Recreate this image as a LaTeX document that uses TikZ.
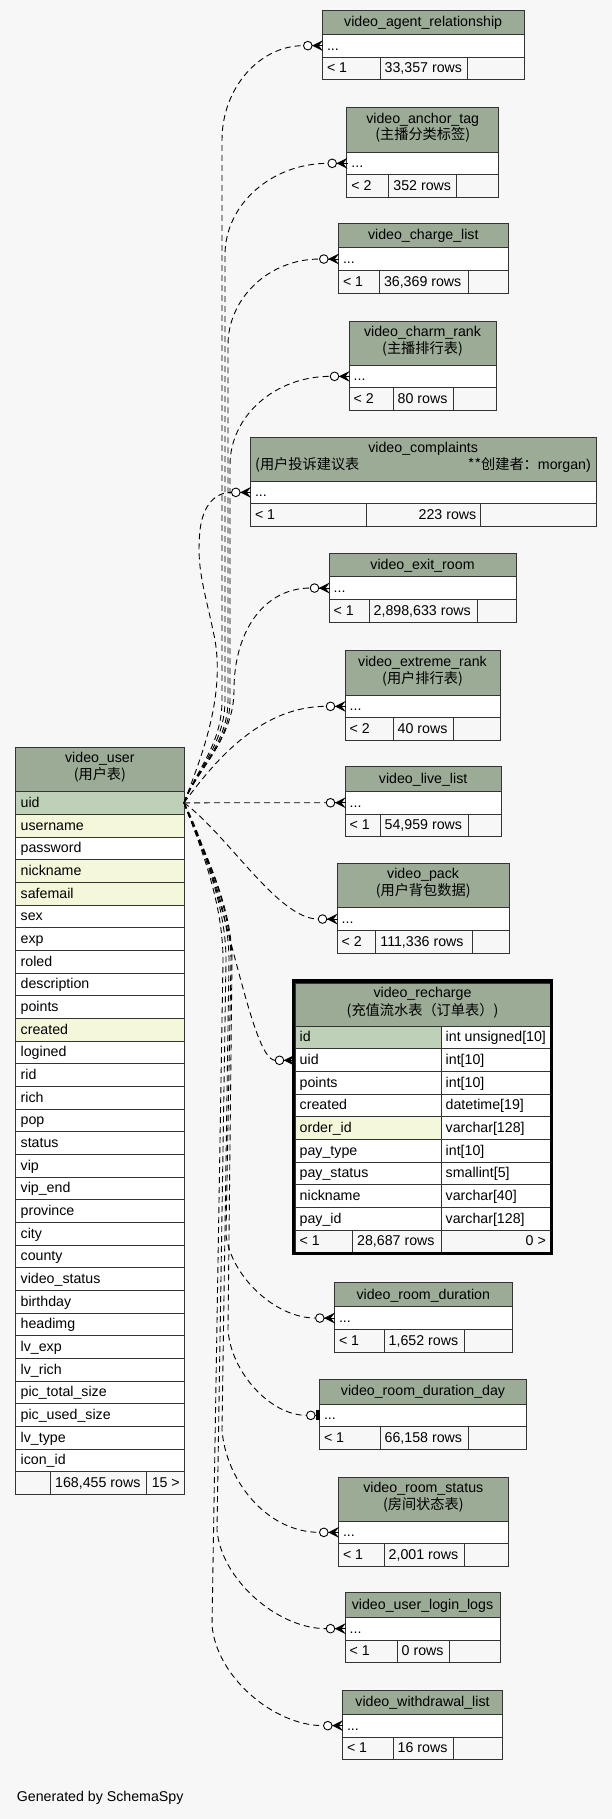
\documentclass[tikz,border=0pt]{standalone}
\usepackage{fontspec}
\setmainfont{Liberation Sans}
\newfontfamily\cjk{Noto Sans CJK SC}
\usetikzlibrary{calc}
\definecolor{bgc}{HTML}{F7F7F7}
\definecolor{hdrc}{HTML}{9BAB96}
\definecolor{pkc}{HTML}{BED1B8}
\definecolor{idxc}{HTML}{F4F7DA}
\definecolor{bdc}{HTML}{333333}
\tikzset{
  cellb/.style={draw=bdc, line width=0.9pt},
  txt/.style={font=\fontsize{14.2}{17}\selectfont, inner sep=0pt},
  ltxt/.style={txt, anchor=base west},
  rtxt/.style={txt, anchor=base east},
  ctxt/.style={txt, anchor=base},
  rel/.style={draw=black, line width=0.9pt, dash pattern=on 6pt off 4pt},
  mkline/.style={line width=0.9pt, solid}
}
% collapsed child table: id, xl, xr, ytop, yhb, div1, div2, left footer, rows text
\newcommand{\ctab}[9]{%
  \pgfmathsetmacro\myra{#5+22.7}%
  \pgfmathsetmacro\myrb{#5+45.4}%
  \pgfmathsetmacro\myba{#5+15.8}%
  \pgfmathsetmacro\mybb{#5+38.5}%
  \pgfmathsetmacro\mymy{#5+11.35}%
  \pgfmathsetmacro\mytx{#2+4.5}%
  \pgfmathsetmacro\mytm{#6+4.5}%
  \filldraw[cellb, fill=hdrc] (#2,#4) rectangle (#3,#5);
  \filldraw[cellb, fill=white] (#2,#5) rectangle (#3,\myra);
  \filldraw[cellb, fill=bgc] (#2,\myra) rectangle (#6,\myrb);
  \filldraw[cellb, fill=bgc] (#6,\myra) rectangle (#7,\myrb);
  \filldraw[cellb, fill=bgc] (#7,\myra) rectangle (#3,\myrb);
  \node[ltxt] (#1-dots) at (\mytx,\myba) {...};
  \node[ltxt] (#1-min) at (\mytx,\mybb) {#8};
  \node[ltxt] (#1-rows) at (\mytm,\mybb) {#9};
  \coordinate (#1-e) at (#2,\mymy);
  \coordinate (#1-c) at ($(#1-e)+(-18.8,0)$);
}
% single-line title: id, xl, xr, ytop, text
\newcommand{\tone}[5]{%
  \pgfmathsetmacro\mycx{(#2+#3)/2}\pgfmathsetmacro\mycy{#4+16.3}%
  \node[ctxt] (#1-t) at (\mycx,\mycy) {#5};}
% two-line title: id, xl, xr, ytop, line1, line2
\newcommand{\ttwo}[6]{%
  \pgfmathsetmacro\mycx{(#2+#3)/2}\pgfmathsetmacro\mycy{#4+15.6}\pgfmathsetmacro\mycz{#4+32.3}%
  \node[ctxt] (#1-t1) at (\mycx,\mycy) {#5};
  \node[ctxt] (#1-t2) at (\mycx,\mycz) {\cjk #6};}
\newcommand{\crowmark}[1]{%
  \fill ($(#1)+(-10.2,0)$) -- ($(#1)+(0.8,-5.5)$) -- ($(#1)+(-3.5,0)$) -- ($(#1)+(0.8,5.5)$) -- cycle;
  \draw[mkline] ($(#1)+(-10.2,0)$) -- ($(#1)+(0.8,0)$);
  \draw[mkline, fill=white] ($(#1)+(-14.5,0)$) circle[radius=4.3];}
\newcommand{\teemark}[1]{%
  \fill ($(#1)+(-3.7,-5)$) rectangle ($(#1)+(0.3,5)$);
  \draw[mkline] ($(#1)+(-4.2,0)$) -- (#1);
  \draw[mkline, fill=white] ($(#1)+(-8.5,0)$) circle[radius=4.3];}
\begin{document}
\begin{tikzpicture}[x=1pt,y=-1pt]
\fill[bgc] (0,0) rectangle (612,1819);
\useasboundingbox (0,0) rectangle (612,1819);

% ---------- video_user ----------
\filldraw[cellb, fill=hdrc] (15.7,747.3) rectangle (184,791.7);
\node[ctxt] (user-t1) at (99.85,762.9) {video\_user};
\node[ctxt] (user-t2) at (99.85,779.6) {\cjk (用户表)};
\foreach \n/\f [count=\i from 0] in {uid/pkc, username/idxc, password/white, nickname/idxc, safemail/idxc, sex/white, exp/white, roled/white, description/white, points/white, created/idxc, logined/white, rid/white, rich/white, pop/white, status/white, vip/white, vip\_end/white, province/white, city/white, county/white, video\_status/white, birthday/white, headimg/white, lv\_exp/white, lv\_rich/white, pic\_total\_size/white, pic\_used\_size/white, lv\_type/white, icon\_id/white} {
  \pgfmathsetmacro\myyt{791.7+22.667*\i}
  \pgfmathsetmacro\myyb{\myyt+22.667}
  \pgfmathsetmacro\myyl{\myyt+15.8}
  \filldraw[cellb, fill=\f] (15.7,\myyt) rectangle (184,\myyb);
  \node[ltxt] (user-r\i) at (20.5,\myyl) {\n};
}
\filldraw[cellb, fill=bgc] (15.7,1471.7) rectangle (50,1494.4);
\filldraw[cellb, fill=bgc] (50,1471.7) rectangle (146.7,1494.4);
\filldraw[cellb, fill=bgc] (146.7,1471.7) rectangle (184,1494.4);
\node[ltxt] (user-rows) at (55,1487.5) {168,455 rows};
\node[rtxt] (user-more) at (180,1487.5) {15 >};
\coordinate (uidout) at (184,802.8);

% ---------- child tables ----------
\ctab{agent}{322.3}{524}{10.3}{34.3}{380}{467.7}{< 1}{33,357 rows}
\tone{agent}{322.3}{524}{10.3}{video\_agent\_relationship}
\ctab{anchor}{346.7}{498.7}{107.7}{152}{388.7}{456.7}{< 2}{352 rows}
\ttwo{anchor}{346.7}{498.7}{107.7}{video\_anchor\_tag}{(主播分类标签)}
\ctab{charge}{338.3}{508.3}{223.3}{247.7}{379.3}{468}{< 1}{36,369 rows}
\tone{charge}{338.3}{508.3}{223.3}{video\_charge\_list}
\ctab{charm}{349}{496}{321}{365}{393}{453}{< 2}{80 rows}
\ttwo{charm}{349}{496}{321}{video\_charm\_rank}{(主播排行表)}

% complaints
\filldraw[cellb, fill=hdrc] (250.3,437.3) rectangle (596,481);
\filldraw[cellb, fill=white] (250.3,481) rectangle (596,503.7);
\filldraw[cellb, fill=bgc] (250.3,503.7) rectangle (366.7,526.4);
\filldraw[cellb, fill=bgc] (366.7,503.7) rectangle (480.7,526.4);
\filldraw[cellb, fill=bgc] (480.7,503.7) rectangle (596,526.4);
\node[ctxt] (compl-t1) at (423.2,452.9) {video\_complaints};
\node[ltxt] (compl-t2) at (255,469.6) {\cjk (用户投诉建议表};
\node[rtxt] (compl-t3) at (591,469.6) {{\cjk **创建者：}morgan)};
\node[ltxt] (compl-dots) at (254.8,496.8) {...};
\node[ltxt] (compl-min) at (254.8,519.5) {< 1};
\node[rtxt] (compl-rows) at (476.5,519.5) {223 rows};
\coordinate (compl-e) at (250.3,492.35);
\coordinate (compl-c) at ($(compl-e)+(-18.8,0)$);

\ctab{exit}{329}{516}{553.3}{576.7}{369}{477.3}{< 1}{2,898,633 rows}
\tone{exit}{329}{516}{553.3}{video\_exit\_room}
\ctab{extreme}{345}{500}{650.7}{695}{393}{453}{< 2}{40 rows}
\ttwo{extreme}{345}{500}{650.7}{video\_extreme\_rank}{(用户排行表)}
\ctab{live}{345}{501.3}{766.7}{791.4}{380}{468.3}{< 1}{54,959 rows}
\tone{live}{345}{501.3}{766.7}{video\_live\_list}
\ctab{pack}{337}{509.3}{863.3}{907.7}{375.7}{472}{< 2}{111,336 rows}
\ttwo{pack}{337}{509.3}{863.3}{video\_pack}{(用户背包数据)}

% recharge (focus table)
\filldraw[cellb, fill=hdrc] (295,983) rectangle (550,1026);
\node[ctxt] (rech-t1) at (422.5,997.5) {video\_recharge};
\node[ctxt] (rech-t2) at (422.5,1015.5) {\cjk (充值流水表（订单表）)};
\foreach \n/\ty/\f [count=\i from 0] in {id/int unsigned[10]/pkc, uid/int[10]/white, points/int[10]/white, created/datetime[19]/white, order\_id/varchar[128]/idxc, pay\_type/int[10]/white, pay\_status/smallint[5]/white, nickname/varchar[40]/white, pay\_id/varchar[128]/white} {
  \pgfmathsetmacro\myyt{1026+22.667*\i}
  \pgfmathsetmacro\myyb{\myyt+22.667}
  \pgfmathsetmacro\myyl{\myyt+15.8}
  \filldraw[cellb, fill=\f] (295,\myyt) rectangle (441,\myyb);
  \filldraw[cellb, fill=white] (441,\myyt) rectangle (550,\myyb);
  \node[ltxt] (rech-n\i) at (299.5,\myyl) {\n};
  \node[ltxt] (rech-ty\i) at (445.5,\myyl) {\ty};
}
\filldraw[cellb, fill=bgc] (295,1230) rectangle (352.7,1252.7);
\filldraw[cellb, fill=bgc] (352.7,1230) rectangle (441,1252.7);
\filldraw[cellb, fill=bgc] (441,1230) rectangle (550,1252.7);
\node[ltxt] (rech-min) at (299.5,1245.8) {< 1};
\node[ltxt] (rech-rows) at (357,1245.8) {28,687 rows};
\node[rtxt] (rech-more) at (546,1245.8) {0 >};
\draw[line width=3.4pt] (293.4,981) rectangle (551.6,1253.5);
\coordinate (rech-e) at (294,1060.3);
\coordinate (rech-c) at ($(rech-e)+(-18.8,0)$);

\ctab{rd}{334.3}{512.3}{1282.7}{1306.7}{384}{464}{< 1}{1,652 rows}
\tone{rd}{334.3}{512.3}{1282.7}{video\_room\_duration}
\ctab{rdd}{319.3}{526.7}{1379.3}{1404}{380}{468}{< 1}{66,158 rows}
\tone{rdd}{319.3}{526.7}{1379.3}{video\_room\_duration\_day}
\coordinate (rdd-c) at ($(rdd-e)+(-12.8,0)$);
\ctab{rs}{338.3}{508.3}{1477.3}{1521}{384}{464}{< 1}{2,001 rows}
\ttwo{rs}{338.3}{508.3}{1477.3}{video\_room\_status}{(房间状态表)}
\ctab{login}{345}{500}{1592.7}{1617.3}{397}{449.3}{< 1}{0 rows}
\tone{login}{345}{500}{1592.7}{video\_user\_login\_logs}
\ctab{wd}{342.3}{502.7}{1690}{1714.3}{393}{453}{< 1}{16 rows}
\tone{wd}{342.3}{502.7}{1690}{video\_withdrawal\_list}

% ---------- connectors ----------
\draw[rel] (uidout) .. controls (196,770) and (222,745) .. (222,700) -- (222,140) .. controls (222,88) and (259.5,45.65) .. (agent-c);
\draw[rel] (uidout) .. controls (196,770) and (225,745) .. (225,700) -- (225,255) .. controls (225,204) and (272,163.35) .. (anchor-c);
\draw[rel] (uidout) .. controls (196,770) and (228,745) .. (228,700) -- (228,345) .. controls (228,298) and (269,259.05) .. (charge-c);
\draw[rel] (uidout) .. controls (196,770) and (230,745) .. (230,700) -- (230,465) .. controls (230,416) and (275,376.35) .. (charm-c);
\draw[rel] (uidout) .. controls (200,760) and (225,700) .. (215,640) .. controls (205,590) and (196,570) .. (200,530) .. controls (203,505) and (215,492.35) .. (compl-c);
\draw[rel] (uidout) .. controls (196,770) and (234,740) .. (234,690) .. controls (234,630) and (265,588.05) .. (exit-c);
\draw[rel] (uidout) .. controls (212,765) and (258,706.35) .. (extreme-c);
\draw[rel] (uidout) -- (live-c);
\draw[rel] (uidout) .. controls (228,835) and (278,919.05) .. (pack-c);
\draw[rel] (uidout) .. controls (225,880) and (250,1060.3) .. (rech-c);
\draw[rel] (uidout) .. controls (198,840) and (231,900) .. (231,960) -- (226,1235) .. controls (231,1276) and (275,1318.05) .. (rd-c);
\draw[rel] (uidout) .. controls (198,840) and (232,900) .. (232,960) -- (228,1330) .. controls (231,1372) and (270,1415.35) .. (rdd-c);
\draw[rel] (uidout) .. controls (198,840) and (229,900) .. (229,960) -- (222,1430) .. controls (226,1481) and (267,1532.35) .. (rs-c);
\draw[rel] (uidout) .. controls (198,840) and (226,900) .. (226,960) -- (217,1530) .. controls (221,1579) and (277,1628.65) .. (login-c);
\draw[rel] (uidout) .. controls (198,840) and (223,900) .. (223,960) -- (212,1625) .. controls (216,1676) and (273,1725.65) .. (wd-c);

\crowmark{agent-e}
\crowmark{anchor-e}
\crowmark{charge-e}
\crowmark{charm-e}
\crowmark{compl-e}
\crowmark{exit-e}
\crowmark{extreme-e}
\crowmark{live-e}
\crowmark{pack-e}
\crowmark{rech-e}
\crowmark{rd-e}
\teemark{rdd-e}
\crowmark{rs-e}
\crowmark{login-e}
\crowmark{wd-e}

\node[ltxt] (gen) at (16.7,1801) {Generated by SchemaSpy};
\end{tikzpicture}
\end{document}
